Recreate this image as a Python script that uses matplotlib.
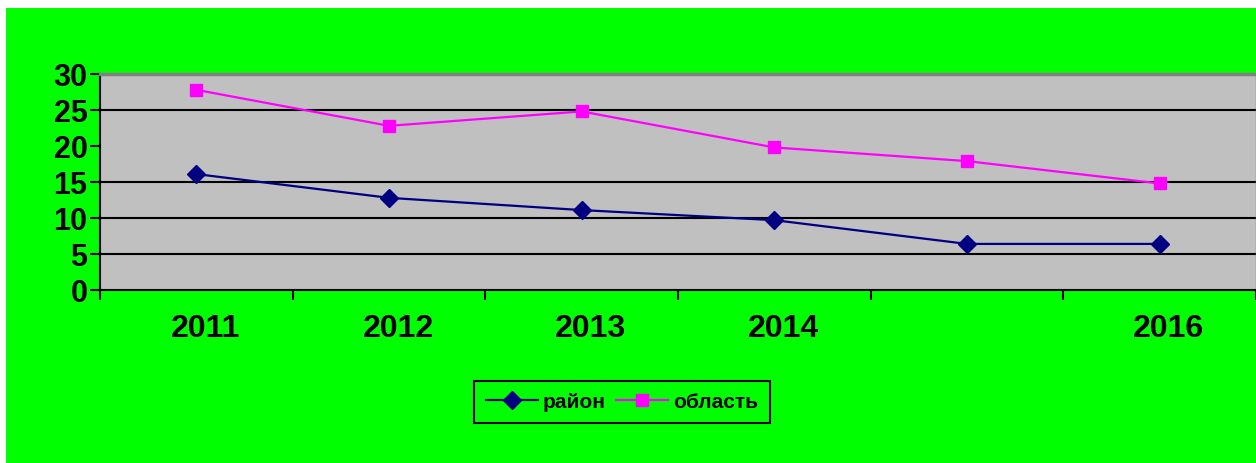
import matplotlib.pyplot as plt
from matplotlib.patches import Rectangle
from matplotlib.transforms import ScaledTranslation

years = ["2011", "2012", "2013", "2014", "", "2016"]
raion = [16.1, 12.8, 11.1, 9.7, 6.4, 6.4]
oblast = [27.8, 22.8, 24.8, 19.8, 17.9, 14.8]
grid_levels = [5, 10, 15, 25]

plt.rcParams["font.family"] = ["Liberation Sans", "DejaVu Sans"]
plt.rcParams["font.weight"] = "bold"

W, H = 1256, 463
fig = plt.figure(figsize=(W / 100, H / 100), dpi=100, facecolor="white")

# зелёный фон диаграммы
bg = Rectangle((6 / W, 0), 1 - 6 / W, 1 - 8 / H, transform=fig.transFigure,
               facecolor="#00FF00", edgecolor="none", zorder=-10)
fig.add_artist(bg)

ax = fig.add_axes([100 / W, (H - 290) / H, 1156 / W, 216 / H])
ax.set_zorder(1)
ax.set_facecolor("#C0C0C0")

x = list(range(len(years)))
ax.plot(x, raion, color="#000080", marker="D", markersize=9, linewidth=1.6, label="район", zorder=3)
ax.plot(x, oblast, color="#FF00FF", marker="s", markersize=9, linewidth=1.6, label="область", zorder=3)

for g in grid_levels:
    ax.axhline(g, color="black", linewidth=1.5, zorder=1)

ax.set_ylim(0, 30)
ax.set_xlim(-0.5, len(years) - 0.5)
ax.set_yticks(range(0, 31, 5))
ax.tick_params(axis="y", labelsize=22, length=7, width=1.5, pad=2, direction="out")

ax.set_xticks([i - 0.5 for i in range(len(years) + 1)])
ax.set_xticklabels([])
ax.set_xticks(x, minor=True)
ax.set_xticklabels(years, minor=True)
ax.tick_params(axis="x", which="major", length=7, width=1.5, direction="out")
ax.tick_params(axis="x", which="minor", length=0, labelsize=23, pad=17)
# подписи годов чуть сдвинуты вправо
shift = ScaledTranslation(9 / 100, 0, fig.dpi_scale_trans)
for lab in ax.get_xticklabels(minor=True):
    lab.set_transform(lab.get_transform() + shift)

for s in ["left", "bottom"]:
    ax.spines[s].set_color("black")
    ax.spines[s].set_linewidth(1.5)
ax.spines["top"].set_color("#808080")
ax.spines["top"].set_linewidth(2.5)
ax.spines["right"].set_color("#808080")
ax.spines["right"].set_linewidth(1)

leg = fig.legend(loc="center", bbox_to_anchor=(622 / W, 1 - 402 / H), ncol=2,
                 fontsize=15, frameon=True, fancybox=False, handlelength=2.5,
                 columnspacing=0.5, handletextpad=0.25, borderpad=0.55, borderaxespad=0)
leg.set_zorder(5)
leg.get_frame().set_facecolor("#00FF00")
leg.get_frame().set_edgecolor("black")
leg.get_frame().set_linewidth(1.5)
leg.get_frame().set_alpha(1)

fig.savefig("out.png", dpi=100, facecolor=fig.get_facecolor())
